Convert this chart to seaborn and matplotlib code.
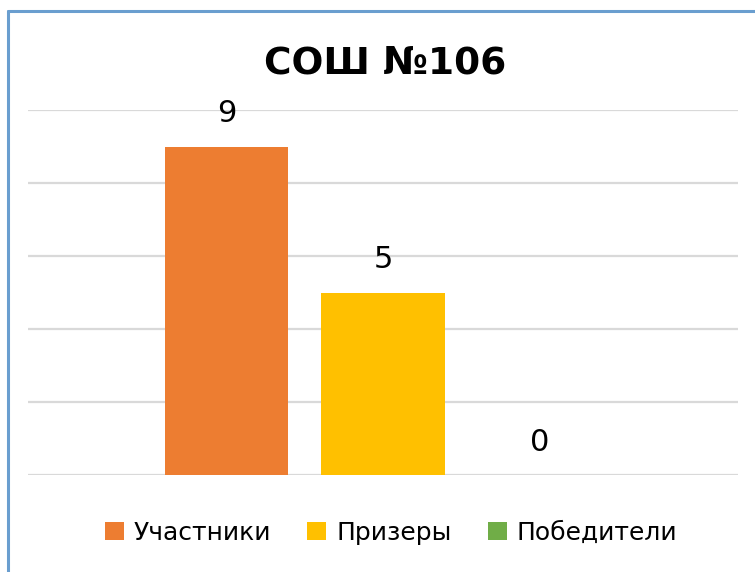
import pandas as pd
import seaborn as sns
import matplotlib.pyplot as plt
from matplotlib.patches import Patch
from matplotlib.lines import Line2D

# chart data
series = ["Участники", "Призеры", "Победители"]
values = [9, 5, 0]
colors = ["#ED7D31", "#FFC000", "#70AD47"]
title = "СОШ №106"

df = pd.DataFrame({"series": series, "value": values})

sns.set_style("white")
plt.rcParams["font.family"] = ["DejaVu Sans"]
plt.rcParams["text.color"] = "black"

fig = plt.figure(figsize=(7.55, 5.72), dpi=100)
ax = fig.add_axes([28 / 755, 1 - 475 / 572, 710 / 755, 365 / 572])

sns.barplot(data=df, x="series", y="value", hue="series", palette=colors,
            width=0.786, saturation=1, legend=False, linewidth=0, ax=ax)

# data labels above the bars
for cont in ax.containers:
    ax.bar_label(cont, fontsize=22, padding=13, color="black")

ax.set_ylim(0, 10)
ax.set_xlim(-1.268, 3.268)
ax.set_yticks(range(0, 11, 2))
ax.yaxis.grid(True, color="#d9d9d9", linewidth=1.6)
ax.set_axisbelow(True)
ax.set_xticks([])
ax.set_yticklabels([])
ax.tick_params(left=False, bottom=False)
ax.set_xlabel("")
ax.set_ylabel("")
for s in ax.spines.values():
    s.set_visible(False)

fig.text(0.51, 1 - 63 / 572, title, ha="center", va="center",
         fontsize=27, fontweight="bold", color="black")

handles = [Patch(facecolor=c, edgecolor="none") for c in colors]
fig.legend(handles, series, loc="center", bbox_to_anchor=(0.518, 1 - 533 / 572),
           ncol=3, frameon=False, fontsize=18, handlelength=0.75, handleheight=0.75,
           handletextpad=0.4, columnspacing=1.45, labelcolor="black")

# chart border (only top and left edges visible)
border = "#6A9ECF"
fig.add_artist(Line2D([7.5 / 755, 7.5 / 755], [0, 1 - 10.5 / 572],
                      color=border, linewidth=2.2, transform=fig.transFigure))
fig.add_artist(Line2D([7.5 / 755, 1], [1 - 10.5 / 572, 1 - 10.5 / 572],
                      color=border, linewidth=2.2, transform=fig.transFigure))

fig.savefig("out.png", dpi=100)
